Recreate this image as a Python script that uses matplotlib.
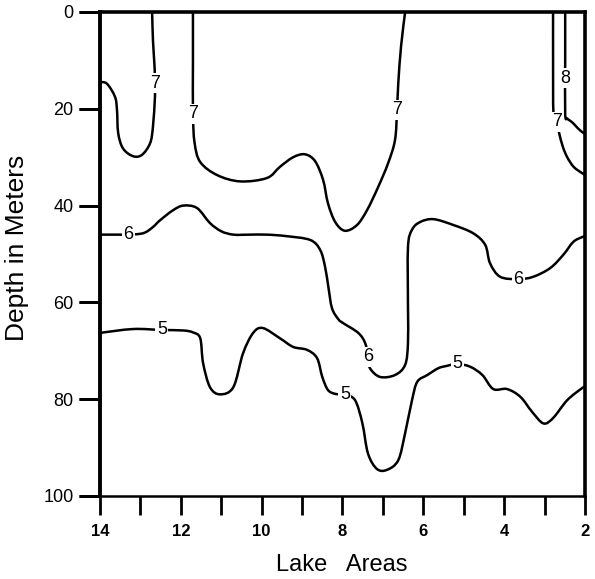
import matplotlib
matplotlib.use("Agg")
import matplotlib.pyplot as plt
from matplotlib.path import Path
from matplotlib.patches import PathPatch
from matplotlib.markers import TICKLEFT

plt.rcParams['font.family'] = ['Liberation Sans', 'DejaVu Sans']

# ---- data: isolines (x = lake area, y = depth in meters) ----
iso7a_x = [14.0, 13.83, 13.63, 13.58, 13.55, 13.43, 13.18, 12.96, 12.76, 12.69, 12.64, 12.64, 12.65, 12.69, 12.71]
iso7a_d = [14.5, 14.8, 17.5, 20.2, 25.0, 28.2, 29.8, 29.5, 27.1, 23.7, 17.5, 14.7, 11.3, 5.8, 0.0]

iso7b_x = [11.70, 11.70, 11.70, 11.66, 11.52, 11.10, 10.53, 9.87, 9.55, 9.22, 8.93, 8.68, 8.48, 8.36,
           8.18, 7.94, 7.64, 7.39, 7.12, 6.87, 6.70, 6.65, 6.62, 6.55, 6.45]
iso7b_d = [0.0, 10.0, 21.0, 27.0, 31.0, 33.7, 35.0, 34.3, 32.0, 30.0, 29.4, 30.8, 34.7, 39.5,
           43.4, 45.2, 44.0, 40.9, 36.2, 31.2, 26.4, 20.2, 14.7, 7.0, 0.0]

iso7c_x = [2.79, 2.79, 2.78, 2.70, 2.64, 2.55, 2.44, 2.28, 2.07, 2.0]
iso7c_d = [0.0, 10.0, 21.0, 22.7, 25.0, 27.8, 30.0, 32.0, 33.3, 33.6]

iso8_x = [2.49, 2.49, 2.49, 2.44, 2.38, 2.29, 2.18, 2.07, 2.0]
iso8_d = [0.0, 10.0, 21.0, 22.0, 22.4, 23.0, 24.0, 24.8, 25.2]

iso6_x = [14.0, 13.5, 13.3, 12.93, 12.70, 12.51, 12.20, 11.94, 11.60, 11.28, 11.00, 10.70, 10.30, 9.87,
          9.40, 8.80, 8.55, 8.43, 8.35, 8.26, 8.10, 7.98, 7.61, 7.44, 7.37, 7.32, 7.07, 6.70,
          6.45, 6.38, 6.38, 6.38, 6.28, 6.08, 5.75, 5.26, 4.77, 4.47, 4.35, 4.10, 3.65, 3.28, 2.86,
          2.54, 2.29, 2.07, 2.0]
iso6_d = [46.0, 46.0, 46.0, 45.7, 44.5, 43.0, 41.0, 40.0, 40.5, 43.6, 45.3, 46.0, 46.0, 46.0,
          46.3, 47.1, 49.2, 52.7, 56.8, 61.2, 63.5, 64.3, 66.3, 68.4, 71.2, 73.6, 75.4, 75.0,
          72.9, 68.4, 61.0, 48.6, 45.0, 43.4, 42.8, 44.0, 45.7, 48.1, 51.9, 54.7, 55.2, 54.7, 52.9,
          50.2, 47.5, 46.5, 46.3]

iso5_x = [14.0, 13.18, 12.47, 11.94, 11.70, 11.52, 11.45, 11.28, 11.03, 10.70, 10.46, 10.21, 9.97,
          9.55, 9.22, 8.88, 8.63, 8.50, 8.36, 8.18, 7.94, 7.69, 7.51, 7.37, 7.15, 6.90, 6.62, 6.45,
          6.28, 6.15, 5.90, 5.63, 5.41, 5.16, 4.84, 4.54, 4.27, 3.93, 3.60, 3.31, 3.03, 2.79, 2.44,
          2.07, 2.0]
iso5_d = [66.3, 65.5, 65.7, 65.8, 66.2, 67.4, 72.5, 77.5, 79.0, 77.5, 70.5, 66.3, 65.3,
          67.4, 69.2, 69.8, 71.5, 75.4, 78.1, 78.9, 79.1, 80.2, 84.9, 91.2, 94.4, 94.6, 92.6, 87.0,
          80.2, 76.4, 75.0, 73.6, 73.1, 72.7, 73.3, 75.0, 77.9, 77.9, 79.5, 82.6, 85.0, 83.9, 80.2,
          77.7, 77.5]

# contour labels: text, x, depth
label_text = ['7', '7', '7', '7', '8', '6', '6', '6', '5', '5', '5']
label_x = [12.64, 11.70, 6.65, 2.70, 2.49, 13.30, 7.37, 3.65, 12.47, 7.94, 5.16]
label_d = [14.7, 21.0, 20.2, 22.7, 13.7, 46.0, 71.2, 55.2, 65.7, 79.1, 72.7]

x_major = [14, 12, 10, 8, 6, 4, 2]
x_minor = [13, 11, 9, 7, 5, 3]
y_ticks = [0, 20, 40, 60, 80, 100]


def smooth_path(xs, ys):
    """Smooth curve through the read points, drawn as Bezier segments by matplotlib's Path."""
    pts = list(zip(xs, ys))
    n = len(pts)
    verts = [pts[0]]
    codes = [Path.MOVETO]
    for i in range(n - 1):
        p0 = pts[i - 1] if i > 0 else pts[i]
        p1 = pts[i]
        p2 = pts[i + 1]
        p3 = pts[i + 2] if i + 2 < n else pts[i + 1]
        c1 = (p1[0] + (p2[0] - p0[0]) / 6.0, p1[1] + (p2[1] - p0[1]) / 6.0)
        c2 = (p2[0] - (p3[0] - p1[0]) / 6.0, p2[1] - (p3[1] - p1[1]) / 6.0)
        verts += [c1, c2, p2]
        codes += [Path.CURVE4, Path.CURVE4, Path.CURVE4]
    return Path(verts, codes)


# ---- figure ----
fig = plt.figure(figsize=(5.95, 5.79), dpi=100)
ax = fig.add_axes([100 / 595, 1 - 496 / 579, 485 / 595, 484 / 579])

ax.set_xlim(14, 2)
ax.set_ylim(100, 0)

lines = [(iso7a_x, iso7a_d), (iso7b_x, iso7b_d), (iso7c_x, iso7c_d), (iso8_x, iso8_d),
         (iso6_x, iso6_d), (iso5_x, iso5_d)]
for xs, ds in lines:
    ax.add_patch(PathPatch(smooth_path(xs, ds), facecolor='none', edgecolor='black',
                           lw=1.8, capstyle='round', joinstyle='round'))

for t, x, d in zip(label_text, label_x, label_d):
    ax.text(x, d, t, fontsize=13, ha='center', va='center', color='black', zorder=5,
            bbox=dict(boxstyle='square,pad=0.08', facecolor='white', edgecolor='none'))

ax.set_xticks(x_major)
ax.set_xticklabels([str(v) for v in x_major], fontsize=12, fontweight='bold')
ax.set_xticks(x_minor, minor=True)
ax.set_yticks(y_ticks)
ax.set_yticklabels([str(v) for v in y_ticks], fontsize=13)

ax.tick_params(axis='x', which='both', direction='out', length=14, width=2.0,
               color='black', pad=6, bottom=True, top=False)
ax.tick_params(axis='y', which='major', direction='out', length=15, width=2.0,
               color='black', pad=4, left=True, right=False)

# reinforce the left depth tick marks at the y tick positions (axis-relative x = 0)
ax.plot([0] * len(y_ticks), y_ticks, linestyle='none', marker=TICKLEFT, markersize=15,
        markeredgewidth=2.0, color='black', clip_on=False,
        transform=ax.get_yaxis_transform(), zorder=6)

ax.spines['left'].set_linewidth(2.8)
ax.spines['right'].set_linewidth(2.6)
ax.spines['top'].set_linewidth(2.6)
ax.spines['bottom'].set_linewidth(1.8)

fig.text(342 / 595, 1 - 565 / 579, 'Lake   Areas', fontsize=17, ha='center', va='center')
fig.text(17 / 595, 1 - 248 / 579, 'Depth in Meters', fontsize=19, rotation=90,
         ha='center', va='center')

fig.savefig('out.png', dpi=100)
